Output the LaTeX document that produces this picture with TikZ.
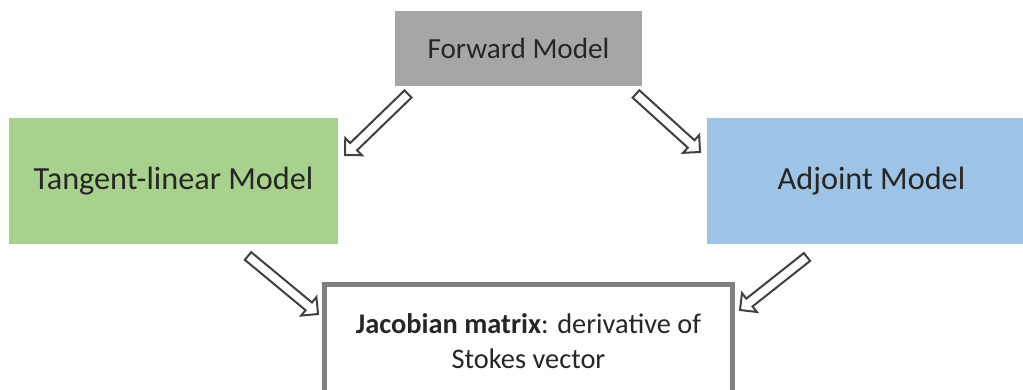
\documentclass[tikz,border=0pt]{standalone}
\usepackage{fontspec}
\setmainfont{Carlito}
\usetikzlibrary{calc}

\definecolor{fwdgray}{RGB}{166,166,166}
\definecolor{tlmgreen}{RGB}{169,209,142}
\definecolor{adjblue}{RGB}{157,195,230}
\definecolor{jacgray}{RGB}{127,127,127}
\definecolor{arrowgray}{RGB}{64,64,64}

% hollow block arrow from #1 (tail) to #2 (tip)
\newcommand{\hollowarrow}[2]{%
	\coordinate (neck) at ($(#2)!9pt!(#1)$);
	\draw[blockarrow] ($(#1)!3.75pt!90:(#2)$) -- ($(neck)!3.75pt!90:(#2)$)
		-- ($(neck)!9pt!90:(#2)$) -- (#2) -- ($(neck)!9pt!-90:(#2)$)
		-- ($(neck)!3.75pt!-90:(#2)$) -- ($(#1)!3.75pt!-90:(#2)$) -- cycle;
}

\begin{document}
\begin{tikzpicture}[x=0.75pt,y=-0.75pt,
	model/.style={inner sep=0pt,outer sep=0pt,align=center,text=black!85},
	blockarrow/.style={fill=white,draw=arrowgray,line width=1.5pt,miter limit=10}]
\useasboundingbox (0,0) rectangle (1023,389);
\clip (0,0) rectangle (1023,389);

\node[model,fill=fwdgray,minimum width=185.25pt,minimum height=56.25pt,
	font=\fontsize{21.9}{26}\selectfont] (fwd) at (518.5,48.5) {Forward Model};
\node[model,fill=tlmgreen,minimum width=246.75pt,minimum height=94.5pt,
	font=\fontsize{24.2}{29}\selectfont] (tlm) at (173.5,181) {Tangent-linear Model};
\node[model,fill=adjblue,minimum width=246.75pt,minimum height=94.5pt,
	font=\fontsize{24.2}{29}\selectfont] (adj) at (871.5,181) {Adjoint Model};
\node[model,draw=jacgray,line width=3.75pt,fill=white,minimum width=306pt,minimum height=84.75pt,
	font=\fontsize{21.3}{26}\selectfont] (jac) at (528.5,341)
	{\textbf{Jacobian matrix}: derivative of\\Stokes vector};

\coordinate (ft-s) at ($(fwd.south west)+(13,8)$);
\coordinate (ft-t) at ($(tlm.north east)+(7,37)$);
\coordinate (fa-s) at ($(fwd.south east)+(-6,8)$);
\coordinate (fa-t) at ($(adj.north west)+(-7,34)$);
\coordinate (tj-s) at ($(tlm.south)+(74.5,12)$);
\coordinate (tj-t) at ($(jac.north west)+(-6.5,29.5)$);
\coordinate (aj-s) at ($(adj.south)+(-64.5,13)$);
\coordinate (aj-t) at ($(jac.north east)+(7.5,25.5)$);

\foreach \s/\t in {ft-s/ft-t,fa-s/fa-t,tj-s/tj-t,aj-s/aj-t}{
	\hollowarrow{\s}{\t}
}
\end{tikzpicture}
\end{document}
